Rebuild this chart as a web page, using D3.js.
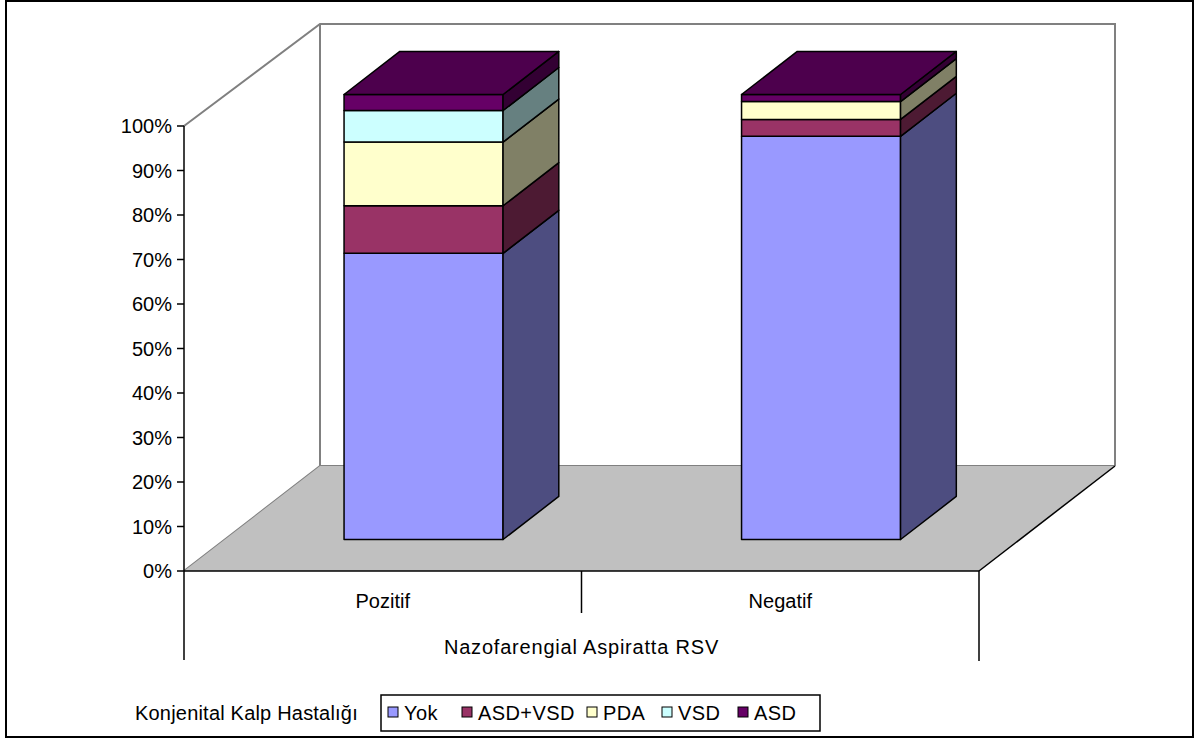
<!DOCTYPE html>
<html>
<head>
<meta charset="utf-8">
<script src="https://cdn.jsdelivr.net/npm/d3@7"></script>
<style>
  body { margin: 0; background: #fff; }
  text { font-family: "Liberation Sans", Arial, sans-serif; fill: #000; }
</style>
</head>
<body>
<svg id="chart" width="1199" height="740"></svg>
<script>
// Categories and stacked shares (%) of congenital heart disease per RSV result
const categories = ["Pozitif", "Negatif"];
const seriesNames = ["Yok", "ASD+VSD", "PDA", "VSD", "ASD"];
const yok    = [64.3, 90.6];
const asdVsd = [10.7, 3.8];
const pda    = [14.3, 4.0];
const vsd    = [7.1, 0];
const asd    = [3.6, 1.6];
const yTickValues = [0, 10, 20, 30, 40, 50, 60, 70, 80, 90, 100];
const axisTitle = "Nazofarengial Aspiratta RSV";
const legendTitle = "Konjenital Kalp Hastalığı";

const seriesValues = [yok, asdVsd, pda, vsd, asd];
const frontColors = ["#9999FF", "#993366", "#FFFFCC", "#CCFFFF", "#660066"];
const sideColors  = ["#4D4D80", "#4D1A33", "#808066", "#668080", "#330033"];
const topColor = "#4D004D";

const svg = d3.select("#chart");
const FONT = 20;

// Plot frame: front plane of the floor and the oblique depth vector
const left = 184, right = 979, base = 571, top100 = 126;
const depth = [136, -105];
const y = d3.scaleLinear().domain([0, 100]).range([base, top100]);
const x = d3.scaleBand().domain(categories).range([left, right])
  .paddingInner(0.6).paddingOuter(0.3);
const proj = (px, py, d) => [px + d * depth[0], py + d * depth[1]];
const barDepth = [0.3, 0.71];
const wallTop = 24;

// Outer frame
svg.append("rect").attr("x", 6).attr("y", 1).attr("width", 1187).attr("height", 736)
  .attr("fill", "#fff").attr("stroke", "#000").attr("stroke-width", 2);

const wall = svg.append("g").attr("fill", "none").attr("stroke", "#808080").attr("stroke-width", 2);

// Floor
const floorPts = [proj(left, base, 0), proj(left, base, 1), proj(right, base, 1), proj(right, base, 0)];
svg.append("polygon").attr("points", floorPts.map(p => p.join(",")).join(" "))
  .attr("fill", "#C0C0C0").attr("stroke", "none");

// Back wall and left wall edges
const line = d3.line();
const backLeft = proj(left, base, 1), backRight = proj(right, base, 1);
wall.append("path").attr("d", line([proj(left, base, 0), backLeft, backRight]));
wall.append("path").attr("d", line([[left, y(100)], [backLeft[0], wallTop], [backRight[0], wallTop], backRight]));
wall.append("path").attr("d", line([[backLeft[0], wallTop], backLeft]));
svg.append("path").attr("d", line([proj(right, base, 0), backRight]))
  .attr("stroke", "#000").attr("stroke-width", 1.5).attr("fill", "none");

// Stacked 3D columns
const bars = svg.append("g").attr("stroke", "#000").attr("stroke-width", 1.5).attr("stroke-linejoin", "round");
categories.forEach((cat, ci) => {
  let cum = 0;
  const segs = [];
  seriesValues.forEach((vals, si) => {
    const v = vals[ci];
    if (v > 0) segs.push({ si, from: cum, to: cum + v });
    cum += v;
  });
  const x0 = x(cat), x1 = x(cat) + x.bandwidth();
  segs.forEach((s, k) => {
    const yb = y(s.from), yt = y(s.to);
    const fTL = proj(x0, yt, barDepth[0]), fTR = proj(x1, yt, barDepth[0]);
    const fBL = proj(x0, yb, barDepth[0]), fBR = proj(x1, yb, barDepth[0]);
    const bTR = proj(x1, yt, barDepth[1]), bBR = proj(x1, yb, barDepth[1]);
    const bTL = proj(x0, yt, barDepth[1]);
    bars.append("polygon").attr("points", [fTL, fTR, fBR, fBL].map(p => p.join(",")).join(" "))
      .attr("fill", frontColors[s.si]);
    bars.append("polygon").attr("points", [fTR, bTR, bBR, fBR].map(p => p.join(",")).join(" "))
      .attr("fill", sideColors[s.si]);
    if (k === segs.length - 1) {
      bars.append("polygon").attr("points", [fTL, bTL, bTR, fTR].map(p => p.join(",")).join(" "))
        .attr("fill", topColor);
    }
  });
});

// Value axis
const axisG = svg.append("g").attr("stroke", "#000").attr("stroke-width", 1.5);
axisG.append("line").attr("x1", left).attr("x2", left).attr("y1", y(100)).attr("y2", 660);
yTickValues.forEach(t => {
  axisG.append("line").attr("x1", left - 7).attr("x2", left).attr("y1", y(t)).attr("y2", y(t));
});
svg.append("g").selectAll("text").data(yTickValues).join("text")
  .attr("x", left - 12).attr("y", d => y(d)).attr("dy", "0.36em")
  .attr("text-anchor", "end").attr("font-size", FONT)
  .text(d => d + "%");

// Category axis
axisG.append("line").attr("x1", left).attr("x2", right).attr("y1", base).attr("y2", base);
axisG.append("line").attr("x1", right).attr("x2", right).attr("y1", base).attr("y2", 661);
categories.slice(1).forEach((c, i) => {
  const xm = (x(categories[i]) + x.bandwidth() + x(c)) / 2;
  axisG.append("line").attr("x1", xm).attr("x2", xm).attr("y1", base).attr("y2", 613);
});
svg.append("g").selectAll("text").data(categories).join("text")
  .attr("x", d => x(d) + x.bandwidth() / 2).attr("y", 601).attr("dy", "0.36em")
  .attr("text-anchor", "middle").attr("font-size", FONT)
  .text(d => d);
svg.append("text").attr("x", (left + right) / 2).attr("y", 647).attr("dy", "0.36em")
  .attr("text-anchor", "middle").attr("font-size", FONT).attr("letter-spacing", 0.8)
  .text(axisTitle);

// Legend
svg.append("text").attr("x", 135).attr("y", 713).attr("dy", "0.36em")
  .attr("font-size", FONT).attr("letter-spacing", 0.2).text(legendTitle);
const legend = svg.append("g");
legend.append("rect").attr("x", 381).attr("y", 695).attr("width", 439).attr("height", 36)
  .attr("fill", "#fff").attr("stroke", "#000").attr("stroke-width", 1.5);
const legendX = [388, 462, 587, 662, 738];
seriesNames.forEach((name, i) => {
  legend.append("rect").attr("x", legendX[i]).attr("y", 707).attr("width", 10).attr("height", 10)
    .attr("fill", frontColors[i]).attr("stroke", "#000").attr("stroke-width", 1);
  legend.append("text").attr("x", legendX[i] + 16).attr("y", 713).attr("dy", "0.36em")
    .attr("font-size", FONT).attr("letter-spacing", 0.4).text(name);
});
</script>
</body>
</html>
